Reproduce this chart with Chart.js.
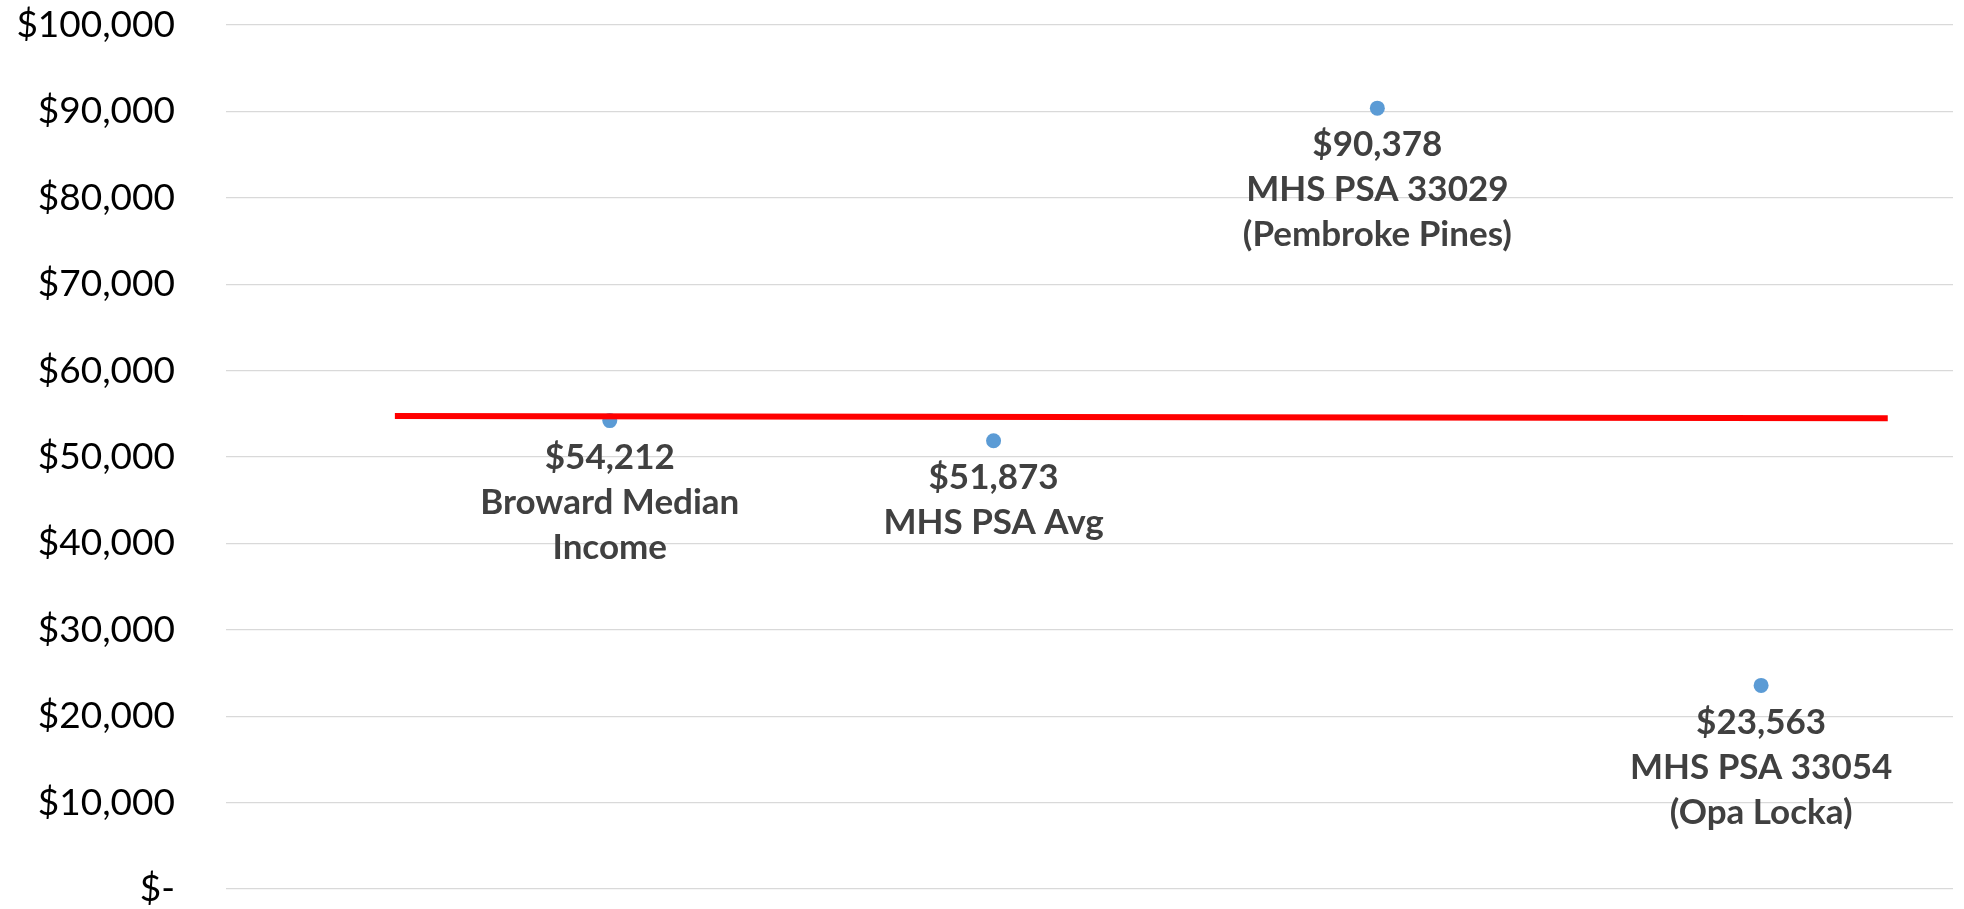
<!DOCTYPE html>
<html>
<head>
<meta charset="utf-8">
<script src="https://cdn.jsdelivr.net/npm/chart.js@4/dist/chart.umd.min.js"></script>
<style>
  html, body { margin: 0; padding: 0; background: #fff; }
  #wrap { width: 1964px; height: 909px; }
</style>
</head>
<body>
<div id="wrap"><canvas id="grafica"></canvas></div>
<script>
// datos
const posiciones = [1, 2, 3, 4];
const ingresos = [54212, 51873, 90378, 23563];
const etiquetas = [
    ['Broward Median', 'Income'],
    ['MHS PSA Avg'],
    ['MHS PSA 33029', '(Pembroke Pines)'],
    ['MHS PSA 33054', '(Opa Locka)']
];
const lineaX = [0.44, 4.33];
const lineaY = [54750, 54480];
const ticksY = [0, 10000, 20000, 30000, 40000, 50000, 60000, 70000, 80000, 90000, 100000];

function formatearDinero(valor) {
    if (valor === 0) return '$-';
    return '$' + new Intl.NumberFormat('en-US').format(valor);
}

const etiquetasPlugin = {
    id: 'etiquetas',
    afterDatasetsDraw(chart) {
        const ctx = chart.ctx;
        const meta = chart.getDatasetMeta(1);
        ctx.save();
        ctx.font = 'bold 35px Lato';
        ctx.fillStyle = '#404040';
        ctx.textAlign = 'center';
        ctx.textBaseline = 'middle';
        meta.data.forEach((punto, i) => {
            const lineas = [formatearDinero(ingresos[i])].concat(etiquetas[i]);
            lineas.forEach((texto, j) => {
                ctx.fillText(texto, punto.x, punto.y + 37 + j * 45);
            });
        });
        ctx.restore();
    }
};

new Chart(document.getElementById('grafica'), {
    type: 'scatter',
    data: {
        datasets: [{
            label: 'Referencia',
            data: lineaX.map((x, i) => ({ x: x, y: lineaY[i] })),
            showLine: true,
            borderColor: '#ff0000',
            borderWidth: 6,
            pointRadius: 0,
            borderCapStyle: 'butt'
        }, {
            label: 'Ingresos',
            data: posiciones.map((x, i) => ({ x: x, y: ingresos[i] })),
            backgroundColor: '#5b9bd5',
            borderColor: '#5b9bd5',
            pointRadius: 7.5,
            borderWidth: 0
        }]
    },
    options: {
        responsive: true,
        maintainAspectRatio: false,
        animation: false,
        layout: { padding: { top: 25, bottom: 20, right: 11, left: 0 } },
        plugins: {
            legend: { display: false },
            tooltip: { enabled: false }
        },
        scales: {
            x: {
                type: 'linear',
                min: 0,
                max: 4.5,
                display: false
            },
            y: {
                min: 0,
                max: 100000,
                afterBuildTicks: (scale) => { scale.ticks = ticksY.map(v => ({ value: v })); },
                afterFit: (scale) => {
                    scale.width = 226;
                    scale.paddingTop = 0;
                    scale.paddingBottom = 0;
                },
                border: { display: false },
                grid: { color: '#d9d9d9', lineWidth: 1.3, drawTicks: false },
                ticks: {
                    padding: 51,
                    color: '#000',
                    font: { family: 'Lato', size: 37, lineHeight: 1.0 },
                    callback: (v) => formatearDinero(v)
                }
            }
        }
    },
    plugins: [etiquetasPlugin]
});
</script>
</body>
</html>
